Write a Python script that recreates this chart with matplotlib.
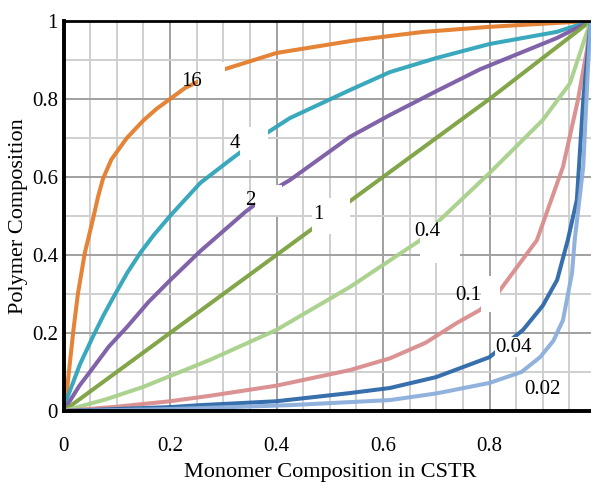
import matplotlib
matplotlib.use("Agg")
import matplotlib.pyplot as plt
from matplotlib.patches import Rectangle
from matplotlib.ticker import MultipleLocator, FixedLocator

plt.rcParams['font.family'] = ['Liberation Serif', 'DejaVu Serif']

# reactivity ratio of each curve and its (monomer, polymer) composition points
ratios = ["16", "4", "2", "1", "0.4", "0.1", "0.04", "0.02"]

x16 = [0, 0.007, 0.018, 0.027, 0.04, 0.055, 0.065, 0.074, 0.09, 0.119, 0.15, 0.175, 0.2, 0.228, 0.297, 0.40, 0.55, 0.675, 0.8, 0.9, 0.99]
y16 = [0, 0.06, 0.2, 0.3, 0.405, 0.49, 0.55, 0.595, 0.645, 0.7, 0.745, 0.775, 0.8, 0.828, 0.874, 0.918, 0.951, 0.972, 0.985, 0.993, 1.0]

x4 = [0, 0.006, 0.031, 0.055, 0.075, 0.093, 0.12, 0.144, 0.17, 0.2, 0.257, 0.318, 0.382, 0.425, 0.538, 0.613, 0.7, 0.8, 0.926, 0.99]
y4 = [0, 0.03, 0.12, 0.19, 0.245, 0.29, 0.355, 0.405, 0.452, 0.50, 0.585, 0.649, 0.713, 0.751, 0.823, 0.869, 0.905, 0.941, 0.972, 1.0]

x2 = [0, 0.03, 0.055, 0.085, 0.119, 0.16, 0.2, 0.257, 0.341, 0.40, 0.425, 0.538, 0.613, 0.7, 0.782, 0.926, 0.99]
y2 = [0, 0.065, 0.11, 0.165, 0.215, 0.28, 0.335, 0.41, 0.51, 0.572, 0.592, 0.703, 0.759, 0.82, 0.876, 0.956, 1.0]

x1 = [0, 0.2, 0.4, 0.6, 0.8, 0.99]
y1 = [0, 0.2, 0.4, 0.6, 0.8, 1.0]

x04 = [0, 0.08, 0.15, 0.275, 0.40, 0.538, 0.594, 0.67, 0.707, 0.8, 0.9, 0.951, 0.99]
y04 = [0, 0.03, 0.062, 0.131, 0.208, 0.318, 0.369, 0.438, 0.49, 0.61, 0.746, 0.84, 1.0]

x01 = [0, 0.1, 0.2, 0.275, 0.40, 0.538, 0.613, 0.68, 0.739, 0.782, 0.816, 0.889, 0.938, 0.966, 0.983, 0.99]
y01 = [0, 0.011, 0.025, 0.039, 0.065, 0.105, 0.135, 0.175, 0.226, 0.259, 0.303, 0.438, 0.626, 0.797, 0.926, 1.0]

x004 = [0, 0.2, 0.257, 0.40, 0.538, 0.613, 0.7, 0.8, 0.863, 0.9, 0.927, 0.947, 0.964, 0.976, 0.99]
y004 = [0, 0.01, 0.015, 0.025, 0.046, 0.059, 0.087, 0.138, 0.208, 0.27, 0.336, 0.438, 0.541, 0.797, 1.0]

x002 = [0, 0.2, 0.425, 0.613, 0.7, 0.8, 0.86, 0.895, 0.92, 0.938, 0.955, 0.96, 0.976, 0.985, 0.99]
y002 = [0, 0.005, 0.015, 0.028, 0.045, 0.072, 0.1, 0.138, 0.18, 0.233, 0.354, 0.438, 0.626, 0.882, 1.0]

x_ticks = [0, 0.2, 0.4, 0.6, 0.8]
x_tick_labels = ["0", "0.2", "0.4", "0.6", "0.8"]
y_ticks = [0, 0.2, 0.4, 0.6, 0.8, 1.0]
y_tick_labels = ["0", "0.2", "0.4", "0.6", "0.8", "1"]

curves = [(x16, y16), (x4, y4), (x2, y2), (x1, y1), (x04, y04), (x01, y01), (x004, y004), (x002, y002)]
colours = ["#e47c2c", "#2fa3ba", "#7a5ba6", "#7ba13f", "#a8d08a", "#d98c8c", "#2d68aa", "#8aaedb"]

# label text positions and the white boxes that break the curves
label_pos = [(0.241, 0.844), (0.322, 0.687), (0.350, 0.541), (0.478, 0.503),
             (0.684, 0.459), (0.760, 0.297), (0.846, 0.164), (0.899, 0.054)]
gaps = [(0.253, 0.803, 0.050, 0.092), (0.331, 0.644, 0.053, 0.084),
        (0.360, 0.503, 0.050, 0.076), (0.467, 0.454, 0.071, 0.092),
        (0.670, 0.379, 0.075, 0.105), (0.784, 0.254, 0.036, 0.092),
        None, None]

fig = plt.figure(figsize=(5.91, 4.82), dpi=100)
ax = fig.add_axes([63.5 / 591, 1 - 411 / 482, 532.5 / 591, 390 / 482])

ax.set_xlim(0, 1)
ax.set_ylim(0, 1)

ax.xaxis.set_major_locator(FixedLocator(x_ticks))
ax.xaxis.set_minor_locator(MultipleLocator(0.05))
ax.yaxis.set_major_locator(FixedLocator(y_ticks))
ax.yaxis.set_minor_locator(MultipleLocator(0.1))
ax.grid(which="minor", color="#cfcfcf", linewidth=1.4, zorder=0)
ax.grid(which="major", color="#a0a0a0", linewidth=1.4, zorder=0)
ax.set_axisbelow(True)

ax.set_xticklabels(x_tick_labels)
ax.set_yticklabels(y_tick_labels)
ax.tick_params(which="both", length=0, labelsize=15)
ax.tick_params(axis="x", pad=19)
ax.tick_params(axis="y", pad=4)

for (xs, ys), c in zip(curves, colours):
    ax.plot(xs, ys, color=c, linewidth=2.9, alpha=0.95, solid_capstyle="butt",
            solid_joinstyle="round", zorder=2)

for g in gaps:
    if g is not None:
        ax.add_patch(Rectangle((g[0], g[1]), g[2], g[3], facecolor="white",
                               edgecolor="none", zorder=3))

for name, (lx, ly) in zip(ratios, label_pos):
    ax.text(lx, ly, name, fontsize=15, ha="center", va="center", zorder=4,
            bbox=dict(facecolor="white", edgecolor="none", pad=0.3) if name == "0.04" else None)

for side in ["left", "bottom"]:
    ax.spines[side].set_linewidth(2.8)
    ax.spines[side].set_color("black")
ax.spines["top"].set_linewidth(2.0)
ax.spines["right"].set_visible(False)

ax.set_xlabel("Monomer Composition in CSTR", fontsize=16, labelpad=5)
ax.set_ylabel("Polymer Composition", fontsize=16, labelpad=3)

fig.savefig("out.png", dpi=100)
